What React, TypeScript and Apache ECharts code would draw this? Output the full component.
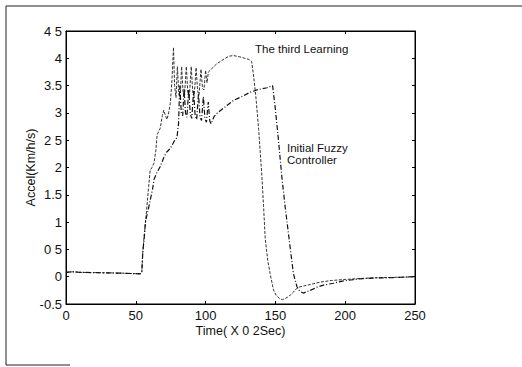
import React, { useEffect, useRef } from "react";
import * as echarts from "echarts";

const xTicks = [0, 50, 100, 150, 200, 250];
const yTickLabels: Record<string, string> = {
  "-0.5": "-0.5",
  "0": "0",
  "0.5": "0 5",
  "1": "1",
  "1.5": "1.5",
  "2": "2",
  "2.5": "2 5",
  "3": "3",
  "3.5": "3.5",
  "4": "4",
  "4.5": "4 5",
};

const seriesNames = ["Initial Fuzzy Controller", "The third Learning"];

const initialFuzzy: [number, number][] = [
  [0, 0.08], [5, 0.09], [10, 0.08], [20, 0.075], [30, 0.07], [40, 0.065], [50, 0.055], [53, 0.05],
  [54.3, 0.08], [55, 0.45], [56, 0.7], [57, 1.02], [58.5, 1.18], [60.3, 1.4], [62, 1.6], [63, 1.78],
  [65, 1.9], [67.5, 2.02], [70, 2.18], [72, 2.28], [74, 2.33], [75.9, 2.4], [77.5, 2.48], [79.5, 2.55],
  [80.6, 2.8], [81.5, 3.5], [82.6, 3.0], [83.6, 2.95], [84.6, 3.45], [85.6, 3.0], [86.6, 2.92],
  [87.9, 3.42], [89, 2.98], [90.1, 2.9], [91.4, 3.4], [92.5, 2.95], [93.6, 2.88], [94.9, 3.35],
  [96, 2.92], [97.1, 2.86], [98.4, 3.3], [99.5, 2.9], [100.6, 2.83], [101.9, 3.2], [103, 2.85],
  [104, 2.8], [106, 2.93], [108, 2.99], [110, 3.03], [112, 3.07], [116, 3.15], [120, 3.23],
  [126, 3.3], [132, 3.38], [138, 3.43], [144, 3.46], [148, 3.5], [149.8, 3.11], [152.2, 2.5],
  [154.6, 1.83], [157, 1.28], [160.5, 0.55], [162.9, 0.06], [165.4, -0.18], [167.5, -0.27],
  [170, -0.3], [175, -0.25], [180, -0.19], [185, -0.15], [191.6, -0.12], [198, -0.08], [204, -0.06],
  [210, -0.04], [220, -0.025], [230, -0.02], [240, -0.01], [250, 0.0],
];

const thirdLearning: [number, number][] = [
  [0, 0.08], [5, 0.09], [10, 0.08], [20, 0.075], [30, 0.07], [40, 0.065], [50, 0.055], [53, 0.05],
  [54.3, 0.08], [55, 0.45], [56, 0.75], [57, 1.02], [58, 1.3], [59.2, 1.65], [60.3, 1.95], [61.6, 2.0],
  [63, 2.08], [64.3, 2.3], [65.3, 2.6], [67.5, 2.72], [69, 2.95], [70, 3.05], [71, 2.97], [72.3, 2.88],
  [73.5, 3.0], [74.7, 3.17], [75.9, 3.6], [77, 4.2], [77.8, 3.5], [78.8, 3.28], [79.8, 3.85],
  [80.8, 3.35], [81.8, 3.28], [82.8, 3.85], [83.8, 3.4], [84.8, 3.28], [86.2, 3.85], [87.3, 3.35],
  [88.3, 3.28], [89.7, 3.85], [90.8, 3.38], [91.8, 3.3], [93.2, 3.83], [94.3, 3.4], [95.3, 3.33],
  [96.7, 3.8], [97.8, 3.45], [98.8, 3.42], [100, 3.78], [101, 3.55], [102, 3.75], [104, 3.8],
  [106, 3.85], [108, 3.9], [111, 3.95], [114, 4.0], [117, 4.04], [120, 4.05], [124, 4.03],
  [128, 4.0], [131, 3.98], [133, 3.94], [134.5, 3.65], [136, 3.3], [138, 2.7], [140.3, 1.85],
  [141.5, 1.3], [142.7, 0.7], [144.5, 0.3], [146.2, 0.06], [148.6, -0.24], [150.5, -0.34],
  [153, -0.4], [155, -0.42], [157, -0.4], [159, -0.37], [161, -0.33], [163, -0.28], [165, -0.22],
  [167, -0.19], [172, -0.16], [177, -0.13], [182, -0.1], [190, -0.07], [200, -0.05], [210, -0.035],
  [220, -0.02], [230, -0.015], [240, -0.01], [250, 0.0],
];

const FONT = "'Liberation Sans', Arial, sans-serif";

export default function App() {
  const ref = useRef<HTMLDivElement>(null);
  useEffect(() => {
    if (!ref.current) return;
    const chart = echarts.init(ref.current, null, { renderer: "svg" });
    const tickCommon = { show: true, inside: true, length: 3, lineStyle: { color: "#000", width: 1 } };
    chart.setOption({
      animation: false,
      backgroundColor: "#fff",
      textStyle: { fontFamily: FONT },
      grid: {
        left: 66,
        right: 107,
        top: 31,
        bottom: 63,
        show: true,
        borderColor: "#000",
        borderWidth: 1,
        backgroundColor: "transparent",
      },
      xAxis: [
        {
          type: "value",
          min: 0,
          max: 250,
          interval: 50,
          name: "Time( X 0 2Sec)",
          nameLocation: "middle",
          nameGap: 20,
          nameMoveOverlap: false,
          nameTextStyle: { fontFamily: FONT, fontSize: 12.5, color: "#111" },
          axisLine: { show: true, onZero: false, lineStyle: { color: "#000", width: 1 } },
          axisTick: tickCommon,
          splitLine: { show: false },
          axisLabel: {
            fontFamily: FONT,
            fontSize: 13,
            color: "#111",
            margin: 5,
            formatter: (v: number) => (xTicks.includes(v) ? String(v) : ""),
          },
        },
        {
          type: "value",
          min: 0,
          max: 250,
          interval: 50,
          position: "top",
          axisLine: { show: true, onZero: false, lineStyle: { color: "#000", width: 1 } },
          axisTick: tickCommon,
          axisLabel: { show: false },
          splitLine: { show: false },
        },
      ],
      yAxis: [
        {
          type: "value",
          min: -0.5,
          max: 4.5,
          interval: 0.5,
          name: "Accel(Km/h/s)",
          nameLocation: "middle",
          nameGap: 29,
          nameMoveOverlap: false,
          nameTextStyle: { fontFamily: FONT, fontSize: 12.5, color: "#111" },
          axisLine: { show: true, onZero: false, lineStyle: { color: "#000", width: 1 } },
          axisTick: tickCommon,
          splitLine: { show: false },
          axisLabel: {
            fontFamily: FONT,
            fontSize: 13,
            color: "#111",
            margin: 4,
            formatter: (v: number) => {
              const k = String(Math.round(v * 10) / 10);
              return yTickLabels[k] ?? k;
            },
          },
        },
        {
          type: "value",
          min: -0.5,
          max: 4.5,
          interval: 0.5,
          position: "right",
          axisLine: { show: true, onZero: false, lineStyle: { color: "#000", width: 1 } },
          axisTick: tickCommon,
          axisLabel: { show: false },
          splitLine: { show: false },
        },
      ],
      series: [
        {
          name: seriesNames[0],
          type: "line",
          data: initialFuzzy,
          showSymbol: false,
          symbol: "none",
          lineStyle: { color: "#111", width: 1.2, type: [5, 2, 1, 2] },
          z: 3,
        },
        {
          name: seriesNames[1],
          type: "line",
          data: thirdLearning,
          showSymbol: false,
          symbol: "none",
          lineStyle: { color: "#333", width: 1, type: [3, 1.5] },
          z: 2,
        },
      ],
      graphic: [
        { type: "line", shape: { x1: 6, y1: 6, x2: 522, y2: 6 }, style: { stroke: "#222", lineWidth: 1 } },
        { type: "line", shape: { x1: 6, y1: 6, x2: 6, y2: 365 }, style: { stroke: "#222", lineWidth: 1 } },
        { type: "line", shape: { x1: 6, y1: 365, x2: 70, y2: 365 }, style: { stroke: "#222", lineWidth: 1 } },
        {
          type: "text",
          left: 255,
          top: 43,
          style: { text: "The third Learning", fontFamily: FONT, fontSize: 11.5, fill: "#111" },
        },
        {
          type: "text",
          left: 287,
          top: 142,
          style: { text: "Initial Fuzzy\nController", fontFamily: FONT, fontSize: 11.5, lineHeight: 12, fill: "#111" },
        },
      ],
    });
    return () => chart.dispose();
  }, []);
  return (
    <div
      ref={ref}
      style={{ position: "absolute", left: 0, top: 0, width: 522, height: 367, background: "#fff" }}
    />
  );
}
